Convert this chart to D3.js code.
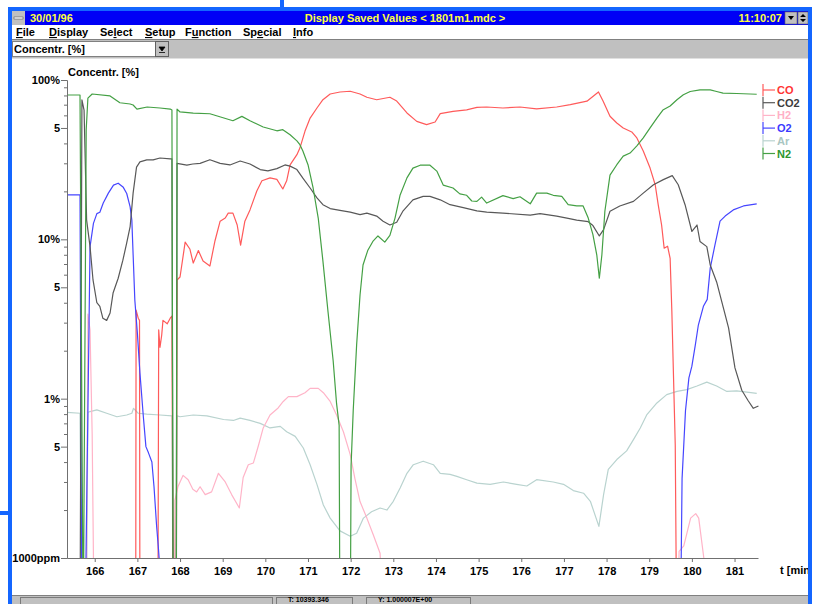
<!DOCTYPE html>
<html>
<head>
<meta charset="utf-8">
<script src="https://cdn.jsdelivr.net/npm/d3@7"></script>
<style>
  body { margin: 0; background: #fff; }
  svg { display: block; font-family: "Liberation Sans", Arial, sans-serif; }
  .ui { font-size: 11px; font-weight: bold; }
  .axis path, .axis line { stroke: #707070; }
  .axis text { font-size: 11px; font-weight: bold; fill: #000; font-family: "Liberation Sans", Arial, sans-serif; }
  .curve { fill: none; stroke-width: 1.2; stroke-linejoin: round; }
</style>
</head>
<body>
<svg width="819" height="604"></svg>
<script>
// time [min] / concentration [%] pairs; 0.03 = below 1000ppm (off scale)
const coData = [[165.35,0.03],[166.96,0.03],[166.97,3.6],[167.02,3.2],[167.05,3.1],[167.06,0.03],[167.48,0.03],[167.50,2.7],[167.53,2.1],[167.57,2.5],[167.60,3.1],[167.70,2.95],[167.77,3.2],[167.81,3.3],[167.84,0.03],[167.91,0.03],[167.93,5.56],[168.0,5.8],[168.12,9.6],[168.23,8.7],[168.31,7.1],[168.43,8.5],[168.54,7.3],[168.70,6.8],[168.82,9.8],[168.94,13.0],[169.06,13.6],[169.13,14.6],[169.24,14.6],[169.34,12.3],[169.42,9.2],[169.52,13.0],[169.64,15.3],[169.80,20.1],[169.92,23.3],[170.11,24.3],[170.27,23.8],[170.41,20.7],[170.50,23.3],[170.58,29.3],[170.74,34.0],[170.81,37.4],[170.93,47.8],[171.05,57.7],[171.21,66.7],[171.35,75.2],[171.52,81.7],[171.75,84.1],[171.99,85.0],[172.22,81.7],[172.38,77.9],[172.61,75.2],[172.92,77.9],[173.08,73.8],[173.32,62.1],[173.55,55.0],[173.78,52.5],[173.98,54.5],[174.10,61.5],[174.40,63.6],[174.72,65.0],[174.96,67.3],[175.19,67.7],[175.57,66.7],[175.97,67.7],[176.36,65.8],[176.83,67.7],[177.15,70.0],[177.54,73.6],[177.81,84.1],[177.92,73.6],[178.08,59.2],[178.24,53.7],[178.39,50],[178.59,47.2],[178.71,43.3],[178.86,35.8],[179.02,28.0],[179.14,22.0],[179.21,16.5],[179.29,12.3],[179.35,8.8],[179.43,9.05],[179.49,7.6],[179.53,3.55],[179.57,1.35],[179.61,0.51],[179.63,0.1],[179.66,0.03],[181.55,0.03]];

const co2Data = [[165.35,0.03],[165.655,0.03],[165.70,75],[165.75,64.8],[165.81,13.2],[165.89,9.0],[165.96,5.56],[166.05,4.0],[166.12,3.8],[166.19,3.2],[166.28,3.1],[166.36,3.45],[166.43,4.6],[166.55,5.7],[166.66,7.4],[166.75,9.5],[166.83,12.0],[166.90,19.5],[166.98,28.4],[167.06,30.6],[167.22,31.5],[167.37,31.5],[167.53,32.4],[167.77,32],[167.81,32],[167.84,0.03],[167.91,0.03],[167.93,30.0],[168.16,29.2],[168.30,29.7],[168.47,30],[168.70,31.6],[168.94,30],[169.17,29.3],[169.41,31],[169.64,29.7],[169.88,27.4],[170.06,26.9],[170.27,27.8],[170.46,29.3],[170.58,28.8],[170.74,27.4],[170.88,24.2],[171.05,21.0],[171.21,18.2],[171.35,16.5],[171.52,15.6],[171.75,15.2],[171.99,14.8],[172.22,14.3],[172.38,14.6],[172.61,14.0],[172.76,13.0],[172.92,12.3],[173.08,12.8],[173.23,15.1],[173.46,17.7],[173.70,18.6],[173.86,18.6],[174.10,17.7],[174.33,16.5],[174.64,15.8],[174.96,15.1],[175.19,14.8],[175.57,14.6],[176.21,14.2],[176.44,14.5],[176.83,14.0],[177.07,13.6],[177.30,13.2],[177.57,12.9],[177.68,12.2],[177.83,10.5],[177.93,11.5],[178.08,15.0],[178.31,16.2],[178.63,17.3],[178.86,19.5],[179.10,22.0],[179.33,23.7],[179.54,25.1],[179.68,22.0],[179.84,16.5],[180.0,11.2],[180.12,12.3],[180.19,9.7],[180.35,9.0],[180.43,6.9],[180.58,5.4],[180.74,3.7],[180.86,2.78],[181.01,1.56],[181.17,1.13],[181.32,0.97],[181.44,0.87],[181.56,0.9]];

const h2Data = [[165.35,0.03],[165.80,0.03],[165.84,3.4],[165.89,2.7],[165.94,0.6],[165.97,0.1],[165.98,0.03],[167.86,0.03],[167.88,0.23],[167.95,0.28],[168.07,0.33],[168.19,0.31],[168.30,0.27],[168.39,0.26],[168.47,0.28],[168.59,0.25],[168.74,0.26],[168.90,0.34],[169.06,0.30],[169.21,0.25],[169.39,0.206],[169.48,0.32],[169.60,0.385],[169.72,0.395],[169.84,0.51],[169.95,0.655],[170.11,0.79],[170.30,0.874],[170.42,0.96],[170.54,1.03],[170.74,1.03],[170.93,1.09],[171.05,1.16],[171.24,1.16],[171.36,1.09],[171.52,0.96],[171.67,0.79],[171.83,0.62],[171.99,0.445],[172.10,0.315],[172.22,0.226],[172.38,0.178],[172.53,0.14],[172.69,0.107],[172.78,0.03],[179.66,0.03],[179.70,0.11],[179.81,0.119],[179.97,0.178],[180.09,0.19],[180.16,0.178],[180.28,0.1],[180.32,0.03],[181.55,0.03]];

const o2Data = [[165.35,19.0],[165.655,19.0],[165.70,0.03],[165.77,0.03],[165.89,9.0],[165.97,12.6],[166.05,14.5],[166.12,14.8],[166.20,16.9],[166.32,19.5],[166.44,21.9],[166.55,22.5],[166.67,21.2],[166.75,19.4],[166.83,16.0],[166.87,13.2],[166.94,4.16],[167.0,2.58],[167.06,1.45],[167.14,0.77],[167.20,0.50],[167.26,0.457],[167.34,0.40],[167.39,0.28],[167.45,0.16],[167.49,0.118],[167.51,0.1],[167.55,0.03],[179.71,0.03],[179.75,0.1],[179.77,0.315],[179.85,0.84],[179.93,1.35],[180.0,1.6],[180.08,2.17],[180.15,2.88],[180.27,3.8],[180.36,4.2],[180.43,6.6],[180.54,9.2],[180.66,13.0],[180.78,14.0],[180.97,15.3],[181.21,16.2],[181.52,16.7]];

const arData = [[165.35,0.82],[165.655,0.81],[165.70,0.03],[165.80,0.03],[165.84,0.82],[165.89,0.83],[166.05,0.85],[166.28,0.81],[166.52,0.77],[166.75,0.79],[166.87,0.81],[166.91,0.87],[167.02,0.81],[167.22,0.80],[167.53,0.79],[167.81,0.78],[167.84,0.03],[167.91,0.03],[167.93,0.78],[168.0,0.77],[168.31,0.79],[168.63,0.78],[169.02,0.74],[169.25,0.73],[169.41,0.755],[169.64,0.73],[169.88,0.70],[170.11,0.655],[170.35,0.67],[170.50,0.62],[170.70,0.58],[170.89,0.49],[171.05,0.385],[171.21,0.29],[171.36,0.215],[171.52,0.178],[171.75,0.148],[171.99,0.137],[172.14,0.143],[172.30,0.178],[172.49,0.195],[172.69,0.206],[172.85,0.20],[173.0,0.227],[173.16,0.275],[173.32,0.34],[173.47,0.385],[173.70,0.405],[173.94,0.385],[174.10,0.34],[174.33,0.335],[174.49,0.325],[174.72,0.31],[174.96,0.295],[175.27,0.29],[175.58,0.30],[175.89,0.29],[176.13,0.283],[176.36,0.31],[176.75,0.30],[176.99,0.29],[177.22,0.265],[177.46,0.255],[177.62,0.227],[177.82,0.158],[177.93,0.25],[178.04,0.36],[178.24,0.415],[178.47,0.47],[178.63,0.553],[178.79,0.655],[178.94,0.79],[179.18,0.94],[179.41,1.06],[179.65,1.11],[179.88,1.14],[180.12,1.20],[180.35,1.27],[180.58,1.20],[180.82,1.11],[181.05,1.12],[181.29,1.10],[181.52,1.08]];

const n2Data = [[165.35,80.5],[165.655,80.5],[165.73,0.03],[165.80,48.6],[165.84,77],[165.94,81.7],[166.36,79.4],[166.59,72],[166.83,70.7],[166.90,69.7],[166.99,65.7],[167.23,67.7],[167.53,66.7],[167.77,65.7],[167.81,64.8],[167.84,0.03],[167.91,0.03],[167.93,65.7],[168.0,63],[168.31,62],[168.70,61.4],[169.24,55.5],[169.45,59.1],[169.64,55.5],[169.95,50.7],[170.27,48],[170.41,48.8],[170.58,45.3],[170.74,41.5],[170.81,39.3],[170.88,35.8],[171.0,29.4],[171.12,21.0],[171.24,13.6],[171.35,7.3],[171.47,3.5],[171.59,1.73],[171.67,0.93],[171.73,0.68],[171.75,0.03],[171.99,0.03],[172.01,0.38],[172.06,0.84],[172.14,2.17],[172.22,4.47],[172.29,6.9],[172.40,8.5],[172.52,9.7],[172.64,10.5],[172.80,9.6],[172.92,10.6],[173.04,13.6],[173.16,19.0],[173.32,24.3],[173.46,28],[173.63,29.2],[173.86,29.2],[174.02,26.8],[174.17,21.9],[174.40,21.0],[174.56,19.3],[174.72,18.9],[174.84,17.4],[174.96,17.3],[175.07,18.4],[175.19,16.9],[175.57,18.8],[175.81,18.0],[175.97,18.5],[176.21,16.7],[176.36,19.5],[176.60,19.5],[176.75,18.9],[176.95,18.6],[177.10,16.5],[177.30,16.2],[177.45,16.2],[177.57,13.6],[177.68,10.7],[177.77,8.0],[177.83,5.7],[177.89,8.0],[177.96,15.0],[178.08,25.3],[178.24,29.4],[178.39,33.3],[178.55,34.8],[178.71,38.6],[178.86,43.3],[179.02,50],[179.18,57.7],[179.32,64.8],[179.49,68.7],[179.65,75.2],[179.80,80.8],[179.96,84.7],[180.19,86.8],[180.43,86.6],[180.58,84.7],[180.73,82.7],[181.05,82.3],[181.52,81.4]];

const seriesNames = ['CO', 'CO2', 'H2', 'O2', 'Ar', 'N2'];
const seriesColors = ['#ff5a5a', '#585858', '#ffb4c8', '#4646ff', '#b9d3cf', '#44a044'];
const legendColors = ['#ff3434', '#3c3c3c', '#ffb0c6', '#3a3aff', '#a9c6c2', '#2e962e'];
const xTicks = d3.range(166, 182);
const yTickValues = [100, 50, 10, 5, 1, 0.5, 0.1];
const yTickLabels = ['100%', '5', '10%', '5', '1%', '5', '1000ppm'];
const menuItems = ['File', 'Display', 'Select', 'Setup', 'Function', 'Special', 'Info'];
const menuKeys = [0, 0, 2, 0, 1, 2, 0];

const svg = d3.select('svg');
const W = 819, H = 604;

// ---- window chrome ----
const frameBlue = '#1466ff';
svg.append('rect').attr('x', 280).attr('y', 0).attr('width', 4).attr('height', 10).attr('fill', frameBlue);
svg.append('rect').attr('x', 0).attr('y', 511).attr('width', 10).attr('height', 4).attr('fill', frameBlue);
svg.append('rect').attr('x', 8).attr('y', 7).attr('width', 805).attr('height', 4).attr('fill', frameBlue);
svg.append('rect').attr('x', 8).attr('y', 7).attr('width', 4).attr('height', H).attr('fill', frameBlue);
svg.append('rect').attr('x', 808).attr('y', 7).attr('width', 4).attr('height', H).attr('fill', frameBlue);

// title bar
svg.append('rect').attr('x', 12).attr('y', 11).attr('width', 796).attr('height', 14).attr('fill', '#0000f6');
svg.append('rect').attr('x', 12).attr('y', 11).attr('width', 13).attr('height', 14).attr('fill', '#c0c0c0');
svg.append('rect').attr('x', 14).attr('y', 17).attr('width', 9).attr('height', 2).attr('fill', '#fff').attr('stroke', '#404040').attr('stroke-width', 0.5);
const titleTxt = svg.append('g').attr('class', 'ui').attr('fill', '#ffff40');
titleTxt.append('text').attr('x', 30).attr('y', 22).text('30/01/96');
titleTxt.append('text').attr('x', 405).attr('y', 22).attr('text-anchor', 'middle').text('Display Saved Values  < 1801m1.mdc >');
titleTxt.append('text').attr('x', 782).attr('y', 22).attr('text-anchor', 'end').text('11:10:07');
svg.append('rect').attr('x', 785).attr('y', 12).attr('width', 12).attr('height', 12).attr('fill', '#c0c0c0').attr('stroke', '#606060').attr('stroke-width', 0.6);
svg.append('path').attr('d', 'M788,16 L794,16 L791,20 Z').attr('fill', '#000');
svg.append('rect').attr('x', 798).attr('y', 12).attr('width', 10).attr('height', 12).attr('fill', '#c0c0c0').attr('stroke', '#606060').attr('stroke-width', 0.6);
svg.append('path').attr('d', 'M800,17 L806,17 L803,14 Z M800,19 L806,19 L803,22 Z').attr('fill', '#000');

// menu bar
svg.append('rect').attr('x', 12).attr('y', 25).attr('width', 796).attr('height', 14).attr('fill', '#fff');
const menuX = [16, 49, 100, 145, 185, 243, 293];
menuItems.forEach((m, i) => {
  const t = svg.append('text').attr('class', 'ui').attr('x', menuX[i]).attr('y', 36).attr('fill', '#000');
  const k = menuKeys[i];
  t.append('tspan').text(m.slice(0, k));
  t.append('tspan').attr('text-decoration', 'underline').text(m[k]);
  t.append('tspan').text(m.slice(k + 1));
});
svg.append('rect').attr('x', 12).attr('y', 39).attr('width', 796).attr('height', 1).attr('fill', '#808080');

// toolbar with combo box
svg.append('rect').attr('x', 12).attr('y', 40).attr('width', 796).attr('height', 18).attr('fill', '#c0c0c0');
svg.append('rect').attr('x', 12.5).attr('y', 41.5).attr('width', 143).attr('height', 15).attr('fill', '#fff').attr('stroke', '#808080');
svg.append('text').attr('class', 'ui').attr('x', 14).attr('y', 53).text('Concentr. [%]');
svg.append('rect').attr('x', 155.5).attr('y', 41.5).attr('width', 13).attr('height', 15).attr('fill', '#c0c0c0').attr('stroke', '#606060');
svg.append('path').attr('d', 'M159,47 L165,47 L162,51 Z M159,52.5 L165,52.5').attr('fill', '#000').attr('stroke', '#000').attr('stroke-width', 0.8);
svg.append('rect').attr('x', 12).attr('y', 58).attr('width', 796).attr('height', 1).attr('fill', '#e0e0e0');

// status bar
svg.append('rect').attr('x', 12).attr('y', 595).attr('width', 796).attr('height', 1).attr('fill', '#808080');
svg.append('rect').attr('x', 12).attr('y', 596).attr('width', 796).attr('height', 8).attr('fill', '#c0c0c0');
[[20, 252], [276, 76], [366, 104]].forEach(([px, pw]) => {
  svg.append('rect').attr('x', px + 0.5).attr('y', 597.5).attr('width', pw).attr('height', 10).attr('fill', 'none').attr('stroke', '#7a7a7a');
});
svg.append('text').attr('x', 288).attr('y', 602).attr('font-size', 7).attr('font-weight', 'bold').text('T: 10393.346');
svg.append('text').attr('x', 378).attr('y', 602).attr('font-size', 7).attr('font-weight', 'bold').text('Y: 1.000007E+00');

// ---- plot ----
const x = d3.scaleLinear().domain([165.35, 181.55]).range([67, 758]);
const y = d3.scaleLog().domain([0.1, 100]).range([558, 80]);

svg.append('defs').append('clipPath').attr('id', 'plotclip')
  .append('rect').attr('x', 67).attr('y', 60).attr('width', 700).attr('height', 498);

const line = d3.line().x(d => x(d[0])).y(d => y(d[1]));
const allData = [coData, co2Data, h2Data, o2Data, arData, n2Data];
const drawOrder = [4, 2, 0, 3, 1, 5];
const plot = svg.append('g').attr('clip-path', 'url(#plotclip)');
drawOrder.forEach(i => {
  plot.append('path').attr('class', 'curve').attr('d', line(allData[i])).attr('stroke', seriesColors[i]);
});

// axes
svg.append('g').attr('class', 'axis').attr('transform', 'translate(0,558)')
  .call(d3.axisBottom(x).tickValues(xTicks).tickSize(4).tickSizeOuter(0).tickPadding(5).tickFormat(d3.format('d')));
const minorVals = [];
[0.1, 1, 10].forEach(dec => [2, 3, 4, 6, 7, 8, 9].forEach(m => minorVals.push(dec * m)));
svg.append('g').attr('class', 'axis').attr('transform', 'translate(67,0)')
  .call(d3.axisLeft(y).tickValues(minorVals).tickSize(3).tickSizeOuter(0).tickFormat(''));
svg.append('g').attr('class', 'axis').attr('transform', 'translate(67,0)')
  .call(d3.axisLeft(y).tickValues(yTickValues).tickSize(6).tickSizeOuter(0).tickPadding(1)
    .tickFormat((d, i) => yTickLabels[i]));
svg.selectAll('.axis .domain').attr('stroke', '#707070');

svg.append('text').attr('class', 'ui').attr('x', 68).attr('y', 76).text('Concentr. [%]');
svg.append('text').attr('class', 'ui').attr('x', 780).attr('y', 574).text('t [min]');

// legend
const legend = svg.append('g').attr('transform', 'translate(763,90)');
seriesNames.forEach((n, i) => {
  const g = legend.append('g').attr('transform', `translate(0,${i * 12.7})`);
  g.append('line').attr('x1', 0).attr('x2', 0).attr('y1', -6).attr('y2', 6).attr('stroke', seriesColors[i]).attr('stroke-width', 1.2);
  g.append('line').attr('x1', 0).attr('x2', 12).attr('y1', 0).attr('y2', 0).attr('stroke', seriesColors[i]).attr('stroke-width', 1.2);
  g.append('text').attr('class', 'ui').attr('x', 14).attr('y', 4).attr('fill', legendColors[i]).text(n);
});

// redraw the window border over the plot edge
svg.append('rect').attr('x', 808).attr('y', 7).attr('width', 4).attr('height', H).attr('fill', frameBlue);
svg.append('rect').attr('x', 812).attr('y', 0).attr('width', 7).attr('height', H).attr('fill', '#fff');
</script>
</body>
</html>
